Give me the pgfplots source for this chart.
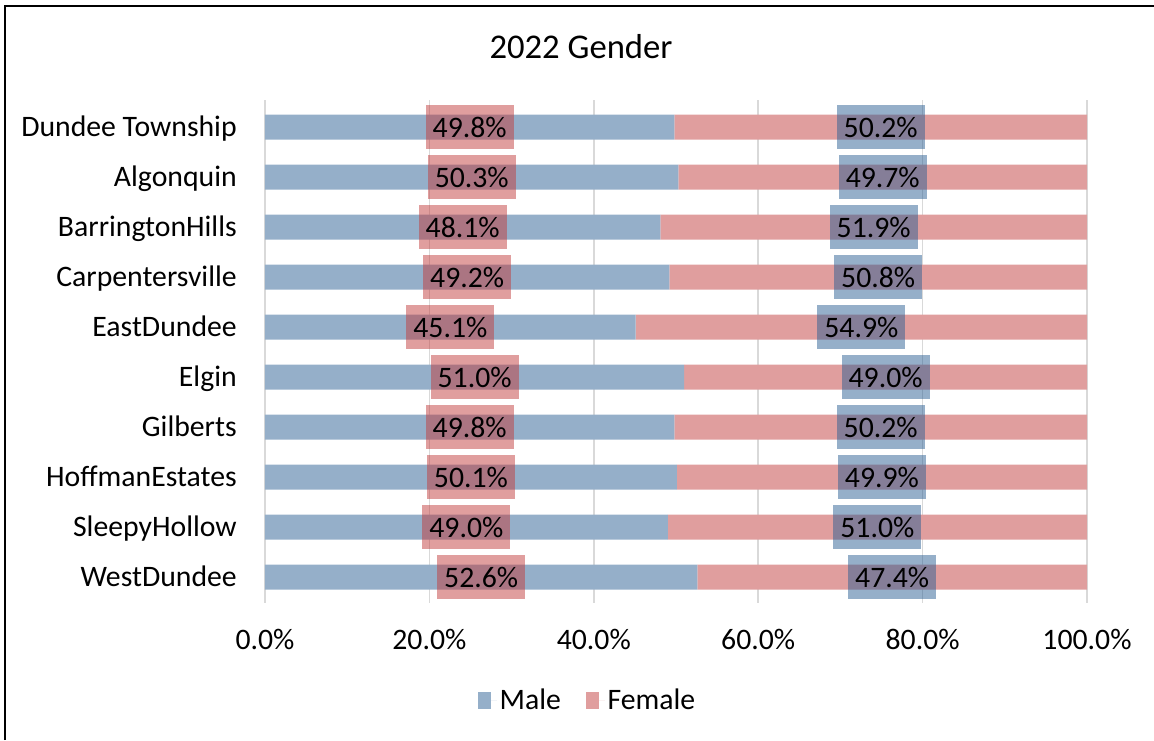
\documentclass[border=0pt]{standalone}
\usepackage{fontspec}
\setmainfont{Carlito}
\usepackage{pgfplots}
\usepackage{pgfplotstable}
\pgfplotsset{compat=1.18}

\definecolor{malecol}{RGB}{149,175,201}
\definecolor{femcol}{RGB}{224,158,158}
\definecolor{maledark}{RGB}{43,95,147}
\definecolor{femdark}{RGB}{193,61,61}
\definecolor{gridcol}{RGB}{217,217,217}

\pgfplotstableread{
idx male female
0 49.8 50.2
1 50.3 49.7
2 48.1 51.9
3 49.2 50.8
4 45.1 54.9
5 51.0 49.0
6 49.8 50.2
7 50.1 49.9
8 49.0 51.0
9 52.6 47.4
}\gender

\pgfplotsset{
  genderaxis/.style={
    scale only axis,
    width=616.5pt, height=377.25pt,
    xmin=0, xmax=100,
    ymin=-0.54, ymax=9.52,
    y dir=reverse,
  },
}

\begin{document}
\begin{tikzpicture}
\useasboundingbox (-198.75pt,-102.75pt) rectangle (666.75pt,452.25pt);
\begin{axis}[
  genderaxis,
  xbar stacked,
  bar width=0.5,
  axis line style={draw=none},
  major tick style={draw=none},
  xmajorgrids=true,
  grid style={gridcol, line width=1.2pt},
  xtick={0,20,40,60,80,100},
  xticklabels={0.0\%,20.0\%,40.0\%,60.0\%,80.0\%,100.0\%},
  ytick={0,1,2,3,4,5,6,7,8,9},
  yticklabels={Dundee Township,Algonquin,BarringtonHills,Carpentersville,EastDundee,Elgin,Gilberts,HoffmanEstates,SleepyHollow,WestDundee},
  tick label style={font=\fontsize{22.3pt}{27pt}\selectfont, inner sep=0pt},
  xticklabel style={anchor=base, yshift=-34.8pt},
  yticklabel style={anchor=base east, xshift=-21pt, yshift=-7.2pt},
  legend style={at={(0.393,-0.193)}, anchor=center, draw=none,
    font=\fontsize{22.3pt}{27pt}\selectfont, legend columns=2,
    /tikz/every even column/.append style={column sep=17pt}},
  legend image code/.code={\fill[#1,draw=none] (0pt,-7pt) rectangle (9.5pt,6pt);
    \path (0pt,0pt) -- (14pt,0pt);},
]
\addplot[fill=malecol, draw=none] table[x=male, y=idx] {\gender};
\addlegendentry{Male}
\addplot[fill=femcol, draw=none] table[x=female, y=idx] {\gender};
\addlegendentry{Female}
\end{axis}

\begin{axis}[
  genderaxis,
  hide axis,
  /pgf/number format/assume math mode=true,
  nodes near coords={\pgfmathprintnumber[fixed,fixed zerofill,precision=1]{\pgfplotspointmeta}\%},
  nodes near coords align=center,
  every node near coord/.append style={anchor=center, inner sep=0pt,
    minimum width=66pt, minimum height=33pt, text=black,
    fill opacity=0.5, text opacity=1,
    font=\fontsize{22.3pt}{27pt}\selectfont},
]
\addplot[draw=none, mark=none, point meta=\thisrow{male},
  every node near coord/.append style={fill=femdark}]
  table[x expr=\thisrow{male}/2, y=idx] {\gender};
\addplot[draw=none, mark=none, point meta=\thisrow{female},
  every node near coord/.append style={fill=maledark}]
  table[x expr=\thisrow{male}+\thisrow{female}/2, y=idx] {\gender};
\end{axis}

\node[font=\fontsize{26pt}{31pt}\selectfont] at (237pt,417pt) {2022 Gender};
\draw[black, line width=1.5pt] (-195pt,-102.75pt) -- (-195pt,447.75pt) -- (666.75pt,447.75pt);
\end{tikzpicture}
\end{document}
